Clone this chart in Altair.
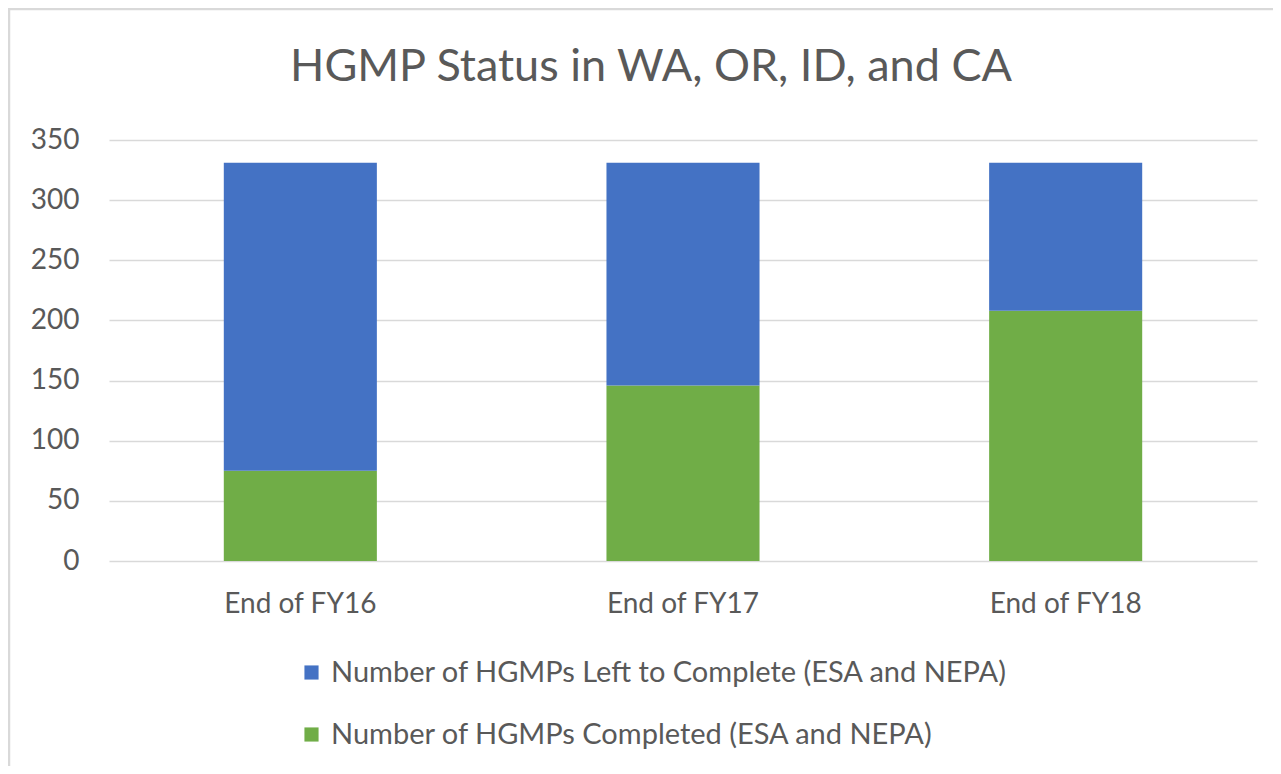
import altair as alt
import pandas as pd

categories = ["End of FY16", "End of FY17", "End of FY18"]
completed = [75, 146, 208]
left_to_complete = [256, 185, 123]
series_names = [
    "Number of HGMPs Left to Complete (ESA and NEPA)",
    "Number of HGMPs Completed (ESA and NEPA)",
]
series_colors = ["#4472C4", "#70AD47"]
y_ticks = [0, 50, 100, 150, 200, 250, 300, 350]

rows = []
for c, v_done, v_left in zip(categories, completed, left_to_complete):
    rows.append({"cat": c, "series": series_names[1], "value": v_done, "ord": 0})
    rows.append({"cat": c, "series": series_names[0], "value": v_left, "ord": 1})
df = pd.DataFrame(rows)

FONT = "Lato"
GRAY = "#595959"
W, H = 1148, 421

bars = alt.Chart(df).mark_bar().encode(
    x=alt.X("cat:N", sort=categories, title=None,
            scale=alt.Scale(paddingInner=0.6, paddingOuter=0.3),
            axis=alt.Axis(labelAngle=0, ticks=False, domain=False, grid=False,
                          labelPadding=29, labelFontSize=28, labelColor=GRAY,
                          labelFont=FONT)),
    y=alt.Y("value:Q", stack="zero", title=None,
            scale=alt.Scale(domain=[0, 350], nice=False),
            axis=alt.Axis(values=y_ticks, ticks=False, domain=False,
                          gridColor="#d9d9d9", gridWidth=1.5,
                          labelPadding=30, labelFontSize=28, labelColor=GRAY,
                          labelFont=FONT)),
    color=alt.Color("series:N", title=None,
                    scale=alt.Scale(domain=series_names, range=series_colors),
                    legend=alt.Legend(orient="none", legendX=188, legendY=518,
                                      direction="vertical", symbolType="square",
                                      symbolSize=200, symbolStrokeWidth=0,
                                      labelFontSize=29, labelColor=GRAY,
                                      labelFont=FONT, labelOffset=5,
                                      rowPadding=32, labelLimit=1000)),
    order=alt.Order("ord:Q"),
)

frame = alt.Data(values=[{"k": 1}])
top_border = alt.Chart(frame).mark_rule(color="#d9d9d9", strokeWidth=2.5).encode(
    x=alt.value(-101), x2=alt.value(1170), y=alt.value(-131))
left_border = alt.Chart(frame).mark_rule(color="#d9d9d9", strokeWidth=2.5).encode(
    x=alt.value(-100), y=alt.value(-132), y2=alt.value(700))

chart = alt.layer(bars, top_border, left_border).properties(
    width=W, height=H,
    autosize=alt.AutoSizeParams(type="none"),
    padding={"left": 101, "top": 132, "right": 16, "bottom": 205},
    title=alt.TitleParams("HGMP Status in WA, OR, ID, and CA", font=FONT,
                          fontSize=45, fontWeight="normal", color=GRAY,
                          anchor="middle", dx=-32, baseline="alphabetic",
                          offset=-119),
).configure(background="white", view=alt.ViewConfig(strokeWidth=0))

chart.save("out.html", embed_options={"renderer": "svg", "actions": False})
